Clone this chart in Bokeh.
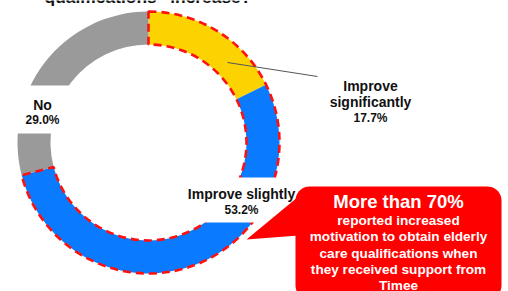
import numpy as np
from bokeh.plotting import figure
from bokeh.models import Range1d, ColumnDataSource
from bokeh.core.properties import value
from bokeh.embed import file_html
from bokeh.resources import INLINE

# ---- data ----
categories = ["Improve significantly", "Improve slightly", "No"]
values = [17.7, 53.2, 29.0]
pct_labels = ["17.7%", "53.2%", "29.0%"]
colors = ["#FCD300", "#0A7BFF", "#9A9A9A"]
title_tail = "qualifications\u201d increase?"
callout_title = "More than 70%"
callout_lines = ["reported increased", "motivation to obtain elderly",
                 "care qualifications when", "they received support from", "Timee"]

FONT = value("Liberation Sans")


def sy(y):
    # convert page-pixel y (top-down) to data y
    return 291 - y


p = figure(width=508, height=291, x_range=Range1d(0, 508), y_range=Range1d(0, 291),
           output_backend="svg", toolbar_location=None, min_border=0)
p.axis.visible = False
p.grid.visible = False
p.outline_line_color = None
p.background_fill_color = "white"
p.border_fill_color = "white"

cx, cy = 148, sy(142)
r_in, r_out = 98, 131
fr = np.array(values) / sum(values)
ends = np.cumsum(fr)
starts = ends - fr
src = ColumnDataSource(dict(
    start=np.pi / 2 - 2 * np.pi * starts,
    end=np.pi / 2 - 2 * np.pi * ends,
    color=colors,
))
p.annular_wedge(x=cx, y=cy, inner_radius=r_in, outer_radius=r_out,
                start_angle="start", end_angle="end", direction="clock",
                fill_color="color", line_color=None, source=src)

# dashed outline around the two "improve" segments
p.annular_wedge(x=cx, y=cy, inner_radius=r_in, outer_radius=r_out,
                start_angle=np.pi / 2, end_angle=float(src.data["end"][1]),
                direction="clock", fill_color=None, line_color="#FF1010",
                line_width=2.6, line_dash="8 5")

# white label backgrounds
p.quad(left=[10, 184], right=[76, 291], top=[sy(85), sy(177)], bottom=[sy(133), sy(222)],
       fill_color="white", line_color=None)

# leader line
p.line(x=[227, 317], y=[sy(62), sy(76)], line_color="#555555", line_width=1)

# labels
def txt(x, y, s, size, color="#111111", baseline="middle"):
    p.text(x=[x], y=[sy(y)], text=[s], text_font=FONT, text_font_style="bold",
           text_font_size=size, text_color=color, text_align="center",
           text_baseline=baseline)

txt(147.5, -3.5, title_tail, "17.4px", baseline="alphabetic")

w1, w2 = categories[0].split(" ")
txt(370, 85, w1, "14px")
txt(370, 101.5, w2, "14px")
txt(370, 117.5, pct_labels[0], "12px")
txt(241, 193, categories[1], "14px")
txt(241, 209, pct_labels[1], "12px")
txt(42, 104, categories[2], "14px")
txt(42, 119.5, pct_labels[2], "12px")

# callout bubble
def rounded_rect(l, r, t, b, rad, n=12):
    xs, ys = [], []
    corners = [(r - rad, t + rad, -np.pi / 2, 0), (r - rad, b - rad, 0, np.pi / 2),
               (l + rad, b - rad, np.pi / 2, np.pi), (l + rad, t + rad, np.pi, 1.5 * np.pi)]
    for ccx, ccy, a0, a1 in corners:
        a = np.linspace(a0, a1, n)
        xs += list(ccx + rad * np.cos(a))
        ys += list(ccy + rad * np.sin(a))
    return xs, [sy(v) for v in ys]

bx, by = rounded_rect(295, 501, 186, 299, 14)
p.patch(bx, by, fill_color="#FF0000", line_color=None)
p.patch([298, 246, 298], [sy(196), sy(239), sy(235)], fill_color="#FF0000", line_color=None)

txt(398, 201, callout_title, "18.5px", "white")
for i, s in enumerate(callout_lines):
    txt(398, 220 + i * 16.3, s, "13.6px", "white")

open("out.html", "w").write(file_html(p, INLINE))
